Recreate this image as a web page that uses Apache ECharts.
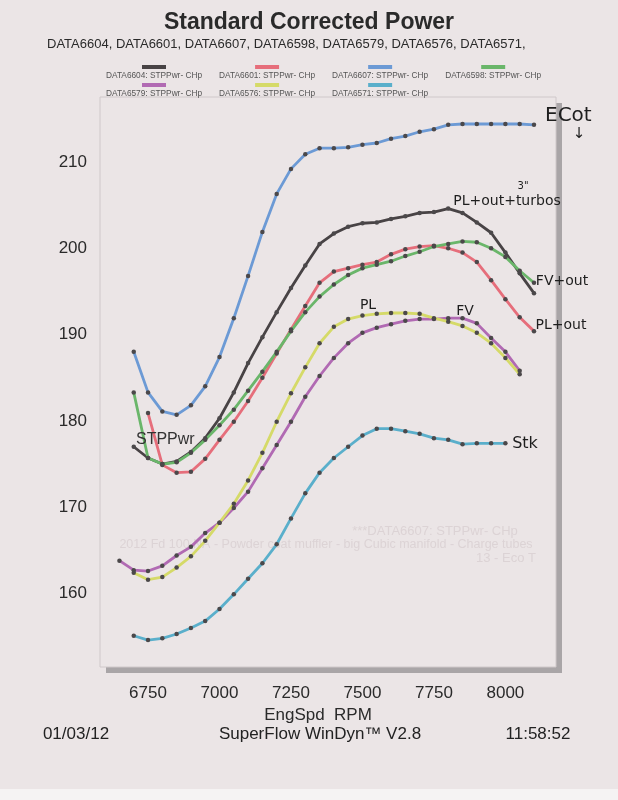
<!DOCTYPE html>
<html><head><meta charset="utf-8">
<script src="https://cdn.jsdelivr.net/npm/echarts@6/dist/echarts.min.js"></script>
<style>html,body{margin:0;padding:0;background:#ebe5e6}#c{width:618px;height:800px}</style>
</head><body><div id="c"></div>
<script>
// ---- data ----
const rpm = [6650,6700,6750,6800,6850,6900,6950,7000,7050,7100,7150,7200,7250,7300,7350,7400,7450,7500,7550,7600,7650,7700,7750,7800,7850,7900,7950,8000,8050,8100];
const data6604 = [null,177.0,175.7,175.0,175.3,176.4,178.0,180.3,183.3,186.7,189.7,192.6,195.4,198.0,200.5,201.7,202.5,202.9,203.0,203.4,203.7,204.1,204.2,204.6,204.1,203.0,201.8,199.5,197.1,194.8];
const data6601 = [null,null,180.9,174.9,174.0,174.1,175.6,177.8,179.9,182.3,185.0,187.8,190.6,193.3,196.0,197.3,197.7,198.1,198.4,199.3,199.9,200.2,200.3,200.0,199.5,198.4,196.3,194.1,192.0,190.4];
const data6607 = [null,188.0,183.3,181.1,180.7,181.8,184.0,187.4,191.9,196.8,201.9,206.3,209.2,210.9,211.6,211.6,211.7,212.0,212.2,212.7,213.0,213.5,213.8,214.3,214.4,214.4,214.4,214.4,214.4,214.3];
const data6598 = [null,183.3,175.7,175.0,175.2,176.3,177.8,179.5,181.3,183.5,185.7,188.0,190.4,192.6,194.4,195.8,196.9,197.7,198.1,198.5,199.1,199.6,200.2,200.5,200.8,200.7,200.0,199.0,197.4,196.0];
const data6579 = [163.8,162.7,162.6,163.2,164.4,165.4,167.0,168.2,169.9,171.8,174.5,177.2,179.9,182.8,185.2,187.3,189.0,190.2,190.8,191.2,191.6,191.8,191.8,191.9,191.9,191.3,189.6,188.0,185.8,null];
const data6576 = [null,162.4,161.6,161.9,163.0,164.3,166.1,168.2,170.4,173.1,176.3,179.9,183.2,186.2,189.0,190.9,191.8,192.2,192.4,192.5,192.5,192.4,191.9,191.5,191.0,190.2,189.0,187.3,185.4,null];
const data6571 = [null,155.1,154.6,154.8,155.3,156.0,156.8,158.2,159.9,161.7,163.5,165.7,168.7,171.6,174.0,175.7,177.0,178.3,179.1,179.1,178.8,178.5,178.0,177.8,177.3,177.4,177.4,177.4,null,null];
const seriesNames = ['DATA6604: STPPwr- CHp','DATA6601: STPPwr- CHp','DATA6607: STPPwr- CHp','DATA6598: STPPwr- CHp','DATA6579: STPPwr- CHp','DATA6576: STPPwr- CHp','DATA6571: STPPwr- CHp'];
const seriesValues = [data6604, data6601, data6607, data6598, data6579, data6576, data6571];
const yTicks = [160,170,180,190,200,210];
const xTicks = [6750,7000,7250,7500,7750,8000];
const titleText = 'Standard Corrected Power';
const subtitleText = 'DATA6604, DATA6601, DATA6607, DATA6598, DATA6579, DATA6576, DATA6571,';

// ---- styles ----
const lineColors = ['#484345','#e66e7b','#6c9ad5','#6ab66a','#b16ab3','#d5da68','#5aafcb'];
const FONT = '"Liberation Sans", Arial, sans-serif';
const HAND = '"DejaVu Sans", sans-serif';
const PAPER = '#ebe5e6';

function pairs(vals){ const out=[]; vals.forEach((v,i)=>{ if(v!=null) out.push([rpm[i], v]); }); return out; }

const rich = { t: {fontSize: 8.3, color:'#555', fontFamily: FONT, lineHeight: 11, align:'center'} };
lineColors.forEach((c,i)=>{ rich['b'+i] = {width:24, height:4, backgroundColor:c, lineHeight:7, align:'center', fontSize:4}; });
function legend(items, top){
  return { top, left: 101, padding:0, itemWidth:0, itemHeight:0, itemGap:12, selectedMode:false, icon:'rect',
    data: items, formatter: name => '{b'+seriesNames.indexOf(name)+'| }\n{t|'+name+'}', textStyle:{rich} };
}

function txt(x, y, s, opt, z){
  return {type:'text', x, y, z:(z==null?20:z), silent:true, style:Object.assign({text:s, fill:'#222', font:'17px '+FONT, textAlign:'center', textVerticalAlign:'middle'}, opt||{})};
}

const chart = echarts.init(document.getElementById('c'));
chart.setOption({
  animation:false,
  backgroundColor: PAPER,
  title:[
    {text:titleText, left:'center', top:11, padding:0, textStyle:{fontSize:23, fontWeight:'bold', color:'#2a2a2a', fontFamily:FONT}},
    {text:subtitleText, left:47, top:38, padding:0, textStyle:{fontSize:13, fontWeight:'normal', color:'#2a2a2a', fontFamily:FONT}}
  ],
  legend:[ legend(seriesNames.slice(0,4), 65), legend(seriesNames.slice(4), 83) ],
  grid:{left:100, top:97, right:62, bottom:133, show:true, backgroundColor:PAPER, borderColor:'#cfc8ca', borderWidth:1, z:1},
  xAxis:{type:'value', min:6582, max:8177,
    axisLine:{show:false}, axisTick:{show:false, customValues:xTicks},
    axisLabel:{customValues:xTicks, formatter:v=>String(v), fontSize:17, color:'#2a2a2a', fontFamily:FONT, margin:18},
    splitLine:{show:true, lineStyle:{color:'#e0d8da', width:1}},
    name:'EngSpd  RPM', nameLocation:'middle', nameGap:38,
    nameTextStyle:{fontSize:17, color:'#2a2a2a', fontFamily:FONT, padding:[0,20,0,0]}},
  yAxis:{type:'value', min:151.48, max:217.53,
    axisLine:{show:false}, axisTick:{show:false, customValues:yTicks},
    axisLabel:{customValues:yTicks, fontSize:17, color:'#2a2a2a', fontFamily:FONT, margin:13},
    splitLine:{show:true, lineStyle:{color:'#e0d8da', width:1}}},
  series: seriesValues.map((vals,i)=>({
    name:seriesNames[i], type:'line', data:pairs(vals), smooth:false,
    symbol:'circle', symbolSize:4.5, showSymbol:true,
    lineStyle:{color:lineColors[i], width:2.8},
    itemStyle:{color:'#4b484a', borderWidth:0},
    color: lineColors[i], z: 3
  })),
  graphic:[
    // drop shadow of the plot frame (drawn behind the grid)
    {type:'rect', shape:{x:106,y:103,width:456,height:570}, style:{fill:'#a9a5a7'}, silent:true, z:-10},
    {type:'rect', shape:{x:0,y:789,width:618,height:11}, style:{fill:'#f5f3f3'}, silent:true, z:-10},
    // faint watermark notes (behind the curves)
    txt(435, 531, '***DATA6607: STPPwr- CHp', {font:'13px '+FONT, fill:'#dcd3d5'}, 2),
    txt(326, 545, '2012 Fd 100 NA - Powder coat muffler - big Cubic manifold - Charge tubes', {font:'12.5px '+FONT, fill:'#dcd3d5'}, 2),
    txt(536, 558, '13 - Eco T', {font:'13px '+FONT, fill:'#dcd3d5', textAlign:'right'}, 2),
    // printed series label
    txt(136, 440, 'STPPwr', {font:'16px '+FONT, fill:'#333', textAlign:'left'}),
    // handwritten notes
    txt(545, 116, 'ECot', {font:'20px '+HAND, fill:'#1e1e1e', textAlign:'left'}),
    txt(579, 134, '↓', {font:'15px '+HAND, fill:'#1e1e1e'}),
    txt(523, 186, '3"', {font:'10px '+HAND, fill:'#1e1e1e'}),
    txt(507, 201, 'PL+out+turbos', {font:'14px '+HAND, fill:'#1e1e1e'}),
    txt(562, 281, 'FV+out', {font:'14px '+HAND, fill:'#1e1e1e'}),
    txt(561, 325, 'PL+out', {font:'14px '+HAND, fill:'#1e1e1e'}),
    txt(368, 305, 'PL', {font:'14px '+HAND, fill:'#1e1e1e'}),
    txt(465, 311, 'FV', {font:'14px '+HAND, fill:'#1e1e1e'}),
    txt(525, 444, 'Stk', {font:'16px '+HAND, fill:'#1e1e1e'}),
    // footer
    txt(76, 734, '01/03/12'),
    txt(320, 734, 'SuperFlow WinDyn™ V2.8'),
    txt(538, 734, '11:58:52')
  ]
});
</script></body></html>
